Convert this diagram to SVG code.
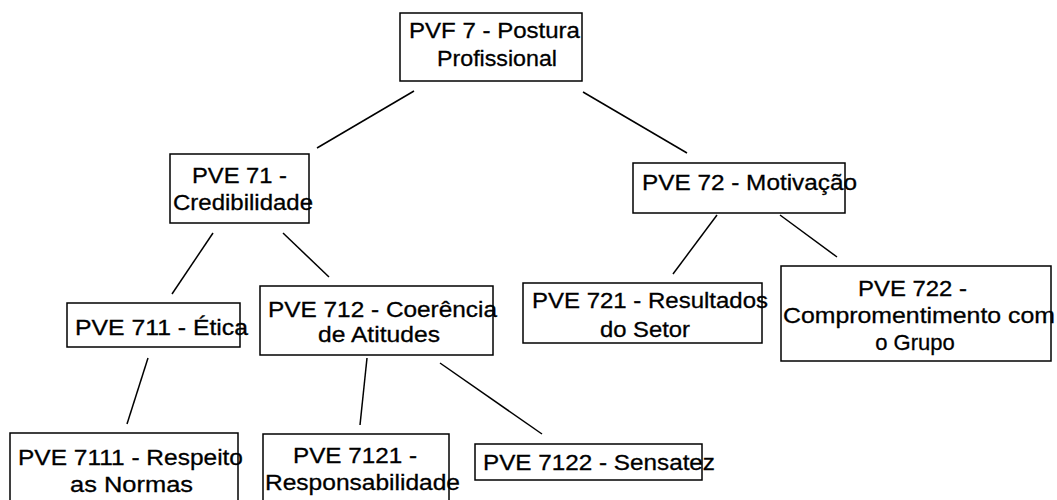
<svg xmlns="http://www.w3.org/2000/svg" width="1057" height="500" viewBox="0 0 1057 500">
  <style>
    .box { fill: #ffffff; stroke: #000000; stroke-width: 1.5; }
    .lbl { font-family: "Liberation Sans", Arial, sans-serif; font-size: 22px; fill: #000000; stroke: #000000; stroke-width: 0.3; }
    .link { stroke: #000000; stroke-width: 1.5; fill: none; }
  </style>
  <rect x="0" y="0" width="1057" height="500" fill="#ffffff"/>

  <!-- tree connectors -->
  <g id="connectors">
    <line class="link" x1="414" y1="91" x2="317" y2="148"/>
    <line class="link" x1="583" y1="92" x2="687" y2="153"/>
    <line class="link" x1="213" y1="233" x2="172" y2="294"/>
    <line class="link" x1="283" y1="233" x2="329" y2="277"/>
    <line class="link" x1="717" y1="215" x2="673" y2="274"/>
    <line class="link" x1="780" y1="215" x2="837" y2="257"/>
    <line class="link" x1="148" y1="358" x2="127" y2="424"/>
    <line class="link" x1="367" y1="358" x2="360" y2="425"/>
    <line class="link" x1="440" y1="363" x2="542" y2="434"/>
  </g>

  <g id="pvf7">
    <rect class="box" x="400" y="13" width="182" height="68"/>
    <text class="lbl" x="409" y="38" textLength="171" lengthAdjust="spacingAndGlyphs">PVF 7 - Postura</text>
    <text class="lbl" x="437" y="66" textLength="120" lengthAdjust="spacingAndGlyphs">Profissional</text>
  </g>

  <g id="pve71">
    <rect class="box" x="170" y="154" width="139" height="69"/>
    <text class="lbl" x="192" y="183" textLength="95" lengthAdjust="spacingAndGlyphs">PVE 71 -</text>
    <text class="lbl" x="173" y="210" textLength="140" lengthAdjust="spacingAndGlyphs">Credibilidade</text>
  </g>

  <g id="pve72">
    <rect class="box" x="633" y="163" width="212" height="50"/>
    <text class="lbl" x="642" y="190" textLength="215" lengthAdjust="spacingAndGlyphs">PVE 72 - Motivação</text>
  </g>

  <g id="pve711">
    <rect class="box" x="67" y="303" width="173" height="44"/>
    <text class="lbl" x="75" y="335" textLength="173" lengthAdjust="spacingAndGlyphs">PVE 711 - Ética</text>
  </g>

  <g id="pve712">
    <rect class="box" x="260" y="286" width="233" height="69"/>
    <text class="lbl" x="268" y="317" textLength="229" lengthAdjust="spacingAndGlyphs">PVE 712 - Coerência</text>
    <text class="lbl" x="318" y="342" textLength="122" lengthAdjust="spacingAndGlyphs">de Atitudes</text>
  </g>

  <g id="pve721">
    <rect class="box" x="523" y="283" width="239" height="60"/>
    <text class="lbl" x="532" y="308" textLength="236" lengthAdjust="spacingAndGlyphs">PVE 721 - Resultados</text>
    <text class="lbl" x="600" y="337" textLength="90" lengthAdjust="spacingAndGlyphs">do Setor</text>
  </g>

  <g id="pve722">
    <rect class="box" x="781" y="266" width="270" height="95"/>
    <text class="lbl" x="858" y="296" textLength="109" lengthAdjust="spacingAndGlyphs">PVE 722 -</text>
    <text class="lbl" x="783" y="323" textLength="272" lengthAdjust="spacingAndGlyphs">Compromentimento com</text>
    <text class="lbl" x="915" y="350" text-anchor="middle">o Grupo</text>
  </g>

  <g id="pve7111">
    <rect class="box" x="10" y="433" width="228" height="80"/>
    <text class="lbl" x="18" y="465" textLength="225" lengthAdjust="spacingAndGlyphs">PVE 7111 - Respeito</text>
    <text class="lbl" x="70" y="492" textLength="123" lengthAdjust="spacingAndGlyphs">as Normas</text>
  </g>

  <g id="pve7121">
    <rect class="box" x="263" y="434" width="186" height="80"/>
    <text class="lbl" x="293" y="463" textLength="124" lengthAdjust="spacingAndGlyphs">PVE 7121 -</text>
    <text class="lbl" x="265" y="490" textLength="195" lengthAdjust="spacingAndGlyphs">Responsabilidade</text>
  </g>

  <g id="pve7122">
    <rect class="box" x="475" y="444" width="227" height="36"/>
    <text class="lbl" x="483" y="470" textLength="232" lengthAdjust="spacingAndGlyphs">PVE 7122 - Sensatez</text>
  </g>
</svg>
